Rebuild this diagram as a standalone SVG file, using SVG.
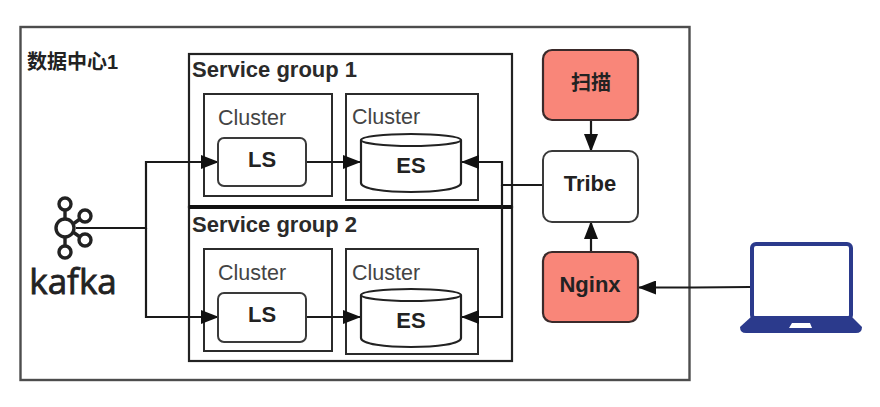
<svg xmlns="http://www.w3.org/2000/svg" width="880" height="407" viewBox="0 0 880 407">
<defs>
<style>
.box{fill:none;stroke:#2b2b2b;stroke-width:2}
.grp{fill:none;stroke:#222;stroke-width:2.2}
.out{fill:none;stroke:#4d4d4d;stroke-width:2.4}
.rnd{fill:#fff;stroke:#3a3a3a;stroke-width:2}
.red{fill:#f98679;stroke:#3a2a2a;stroke-width:2.2}
.cyl{fill:#fff;stroke:#222;stroke-width:2.2}
.c{fill:none;stroke:#1a1a1a;stroke-width:2.2}
.t{font-family:"Liberation Sans",Arial,sans-serif;fill:#222}
.b{font-weight:700;font-size:22px}
.cl{font-size:21.500px;fill:#444}
.h{font-weight:700;font-size:22px;fill:#2a2a2a}
.k{fill:none;stroke:#222;stroke-width:3.400}
</style>
<marker id="a" markerWidth="18" markerHeight="14" refX="17" refY="7" orient="auto" markerUnits="userSpaceOnUse"><path d="M0 0L18 7L0 14z" fill="#111"/></marker>
</defs>
<rect width="880" height="407" fill="#fff"/>
<rect id="datacenter" class="out" x="20.500" y="27" width="669" height="353"/>
<text class="t" x="27" y="69" font-size="20" font-weight="700" fill="#444" style="font-family:'Liberation Sans','Noto Sans CJK SC',sans-serif">数据中心1</text>
<g id="group1"><rect class="grp" x="189" y="54" width="323" height="153"/><text class="t h" x="192" y="77">Service group 1</text></g>
<g id="group2"><rect class="grp" x="189" y="207" width="323" height="154"/><line x1="189" y1="207" x2="512" y2="207" stroke="#111" stroke-width="4"/><text class="t h" x="192" y="232">Service group 2</text></g>
<g id="cluster1a"><rect class="box" x="204" y="94" width="128" height="102"/><text class="t cl" x="218" y="125">Cluster</text></g>
<g id="cluster1b"><rect class="box" x="346" y="94" width="132" height="106"/><text class="t cl" x="352" y="124">Cluster</text></g>
<g id="cluster2a"><rect class="box" x="204" y="249" width="128" height="102"/><text class="t cl" x="218" y="280">Cluster</text></g>
<g id="cluster2b"><rect class="box" x="346" y="249" width="132" height="105"/><text class="t cl" x="352" y="280">Cluster</text></g>
<g id="connectors">
<path class="c" d="M76 228H146V162H218" marker-end="url(#a)"/>
<path class="c" d="M146 228V317H218" marker-end="url(#a)"/>
<path class="c" d="M306 162H360" marker-end="url(#a)"/>
<path class="c" d="M306 317H360" marker-end="url(#a)"/>
<path class="c" d="M542 185H502V162H462" marker-end="url(#a)"/>
<path class="c" d="M502 185V317H462" marker-end="url(#a)"/>
<path class="c" d="M591 121V151" marker-end="url(#a)"/>
<path class="c" d="M591 252V222" marker-end="url(#a)"/>
<path class="c" d="M750 287L694 287.500H639" marker-end="url(#a)"/>
</g>
<g id="ls1"><rect class="rnd" x="218" y="138" width="88" height="48" rx="6"/><text class="t b" x="262" y="167" text-anchor="middle">LS</text></g>
<g id="ls2"><rect class="rnd" x="218" y="293" width="88" height="49" rx="6"/><text class="t b" x="262" y="322" text-anchor="middle">LS</text></g>
<g id="es1"><path class="cyl" d="M361 140V183C361 195 461 195 461 183V140"/><ellipse class="cyl" cx="411" cy="140" rx="50" ry="6"/><text class="t b" x="411" y="173" text-anchor="middle">ES</text></g>
<g id="es2"><path class="cyl" d="M361 295V338C361 350 461 350 461 338V295"/><ellipse class="cyl" cx="411" cy="295" rx="50" ry="6"/><text class="t b" x="411" y="328" text-anchor="middle">ES</text></g>
<g id="scan"><rect class="red" x="543" y="50" width="95" height="70" rx="9"/><text class="t" x="591" y="90" text-anchor="middle" font-size="20" font-weight="700" style="font-family:'Liberation Sans','Noto Sans CJK SC',sans-serif">扫描</text></g>
<g id="tribe"><rect class="rnd" x="543" y="151" width="95" height="71" rx="9"/><text class="t b" x="590" y="191" text-anchor="middle">Tribe</text></g>
<g id="nginx"><rect class="red" x="543" y="252" width="95" height="70" rx="9"/><text class="t b" x="590" y="292" text-anchor="middle">Nginx</text></g>
<g id="kafka">
<circle class="k" cx="65" cy="204" r="6"/><circle class="k" cx="65" cy="228" r="9"/><circle class="k" cx="65" cy="252" r="6"/><circle class="k" cx="85" cy="216" r="6"/><circle class="k" cx="85" cy="240" r="6"/>
<path class="k" d="M65 210V219M65 237V246M73 224L80 219M73 232L80 237"/>
<text x="73" y="294" text-anchor="middle" font-size="35" font-weight="400" fill="#222" stroke="#222" stroke-width="0.800" style="font-family:'Open Sans','Liberation Sans',sans-serif">kafka</text>
</g>
<g id="laptop">
<rect x="752" y="244" width="99" height="75" rx="4" fill="#fff" stroke="#2b3a8c" stroke-width="4"/>
<path d="M752 316H851L862 327Q862 333 856 333H746Q740 333 740 327z" fill="#2b3a8c"/>
<path d="M792 323H810L812 328H789z" fill="#fff"/>
</g>
</svg>
